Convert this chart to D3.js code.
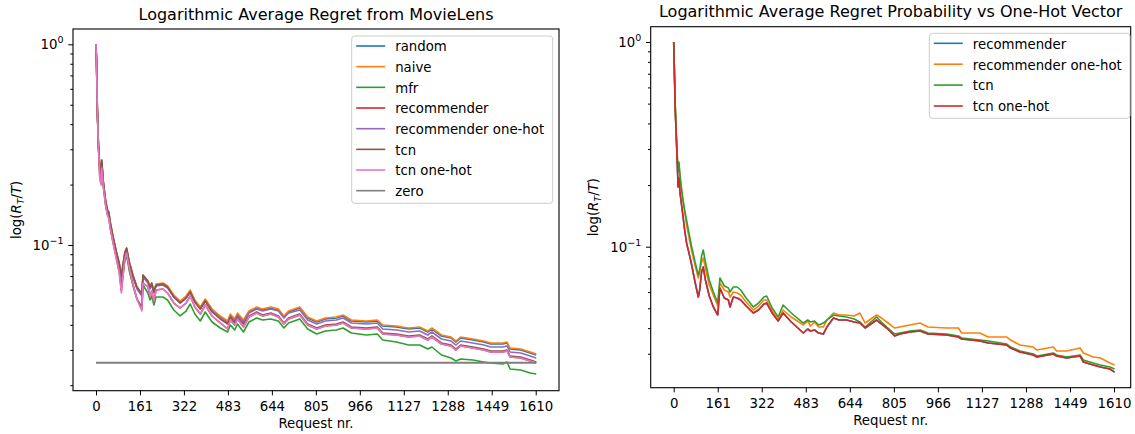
<!DOCTYPE html>
<html>
<head>
<meta charset="utf-8">
<script src="https://cdn.jsdelivr.net/npm/d3@7"></script>
<style>
    body { margin: 0; background: #fff; }
    svg { display: block; font-family: "DejaVu Sans", sans-serif; }
</style>
</head>
<body>
<svg id="chart" width="1135" height="434"></svg>
<script>
// ---- MovieLens panel ----
const reqLeft = [0, 2, 5, 9, 14, 19, 21, 27, 35, 42, 47, 52, 62, 75, 85, 93, 98, 106, 112, 122,
    135, 150, 168, 172, 190, 198, 204, 212, 220, 245, 262, 285, 308, 330, 345, 362, 382, 400, 425, 455,
    482, 492, 508, 518, 540, 560, 588, 610, 640, 668, 688, 705, 746, 775, 808, 840, 880, 905, 935, 990,
    1030, 1050, 1100, 1145, 1185, 1215, 1230, 1265, 1300, 1318, 1335, 1380, 1420, 1445, 1490, 1505, 1516, 1555, 1590, 1612];

const randomVals = [1.0, .814, .4653, .3115, .2393, .2259, .2623, .2037, .1657, .1477,
    .1444, .1287, .1096, .09123, .08041, .06926, .07769, .09123, .09551, .08133,
    .07006, .06105, .05634, .07006, .06539, .06105, .06391, .05831, .06319, .06391,
    .06176, .05570, .05198, .05506, .05898, .05258, .04853, .05319, .04742, .04377,
    .04133, .04479, .04229, .04529, .04181, .04635, .04853, .04742, .04853, .04742,
    .04377, .04635, .04853, .04327, .04133, .04278, .04327, .04428, .04181, .04133,
    .04181, .03947, .03902, .03814, .03858, .03685, .03814, .03519, .03440, .03285,
    .03440, .03362, .03285, .03211, .03211, .03248, .03032, .02997, .02896, .02830];

const naiveVals = [1.0, .816, .4707, .3151, .2420, .2285, .2653, .2060, .1676, .1494,
    .1460, .1302, .1109, .09228, .08133, .07006, .07858, .09228, .09662, .08227,
    .07087, .06176, .05698, .07087, .06615, .06176, .06465, .05898, .06391, .06465,
    .06247, .05634, .05258, .05570, .05966, .05319, .04909, .05381, .04798, .04428,
    .04181, .04529, .04278, .04582, .04229, .04688, .04909, .04798, .04909, .04798,
    .04428, .04688, .04909, .04377, .04181, .04327, .04377, .04479, .04229, .04181,
    .04229, .03993, .03947, .03858, .03902, .03727, .03858, .03560, .03479, .03323,
    .03479, .03400, .03323, .03248, .03248, .03285, .03067, .03032, .02929, .02863];

const mfrVals = [1.0, .81, .4653, .3080, .2338, .2182, .2563, .1991, .1619, .1444,
    .1411, .1258, .1059, .08714, .07592, .06319, .07087, .08418, .08916, .07419,
    .06319, .05381, .04909, .06319, .05764, .05319, .05570, .05023, .05506, .05506,
    .05319, .04742, .04428, .04688, .05080, .04529, .04181, .04635, .04133, .03858,
    .03685, .03993, .03770, .04039, .03685, .04133, .04327, .04229, .04278, .04181,
    .03858, .04086, .04278, .03814, .03601, .03727, .03770, .03858, .03643, .03560,
    .03601, .03362, .03285, .03174, .03174, .03032, .03102, .02830, .02734, .02642,
    .02703, .02672, .02612, .02582, .02552, .02612, .02410, .02382, .02302, .02275];

const recommenderVals = [1.0, .80, .4600, .3045, .2157, .2037, .2420, .1946, .1583, .1411,
    .1363, .1215, .1035, .08516, .07335, .05898, .06847, .08614, .09123, .07680,
    .06391, .05381, .04798, .06465, .06176, .05570, .05898, .05258, .05966, .06035,
    .05764, .05139, .04853, .05139, .05570, .04909, .04529, .05023, .04428, .04086,
    .03814, .04229, .03993, .04278, .03902, .04377, .04582, .04428, .04529, .04377,
    .04039, .04278, .04479, .03993, .03814, .03947, .03993, .04086, .03858, .03814,
    .03858, .03601, .03560, .03479, .03519, .03362, .03479, .03211, .03138, .02997,
    .03138, .03067, .02997, .02929, .02929, .02963, .02766, .02734, .02642, .02582];

const recOneHotVals = [1.0, .816, .4653, .3115, .2365, .2233, .2593, .2013, .1638, .1460,
    .1427, .1273, .1084, .09019, .07949, .06769, .07592, .09019, .09442, .08041,
    .06926, .06035, .05570, .06926, .06465, .06035, .06319, .05764, .06247, .06319,
    .06105, .05506, .05139, .05443, .05831, .05198, .04798, .05258, .04688, .04327,
    .04086, .04428, .04181, .04479, .04133, .04582, .04798, .04688, .04798, .04688,
    .04327, .04582, .04742, .04229, .04039, .04181, .04229, .04327, .04086, .04039,
    .04086, .03814, .03770, .03685, .03727, .03560, .03685, .03400, .03323, .03174,
    .03323, .03248, .03174, .03102, .03102, .03138, .02929, .02896, .02798, .02734];

const tcnVals = [1.0, .82, .4707, .3151, .2420, .2285, .2653, .2060, .1676, .1494,
    .1460, .1302, .1109, .09228, .08133, .07006, .07858, .09228, .09662, .08227,
    .07087, .06176, .05698, .07087, .06615, .06176, .06465, .05831, .06319, .06391,
    .06176, .05506, .05139, .05443, .05831, .05198, .04798, .05258, .04635, .04278,
    .04039, .04377, .04086, .04377, .04039, .04428, .04635, .04479, .04582, .04428,
    .04086, .04327, .04529, .04039, .03858, .03993, .04039, .04133, .03902, .03858,
    .03902, .03643, .03601, .03519, .03560, .03400, .03519, .03248, .03174, .03032,
    .03174, .03102, .03032, .02963, .02963, .02997, .02798, .02766, .02672, .02612];

const tcnOneHotVals = [1.0, .80, .4600, .3045, .2108, .1991, .2420, .1946, .1583, .1411,
    .1363, .1215, .1035, .08516, .07335, .05764, .06847, .08614, .09123, .07680,
    .06391, .05381, .04688, .06465, .06176, .05570, .05898, .05258, .05966, .06035,
    .05764, .05139, .04853, .05139, .05570, .04909, .04529, .05023, .04428, .04086,
    .03814, .04229, .03993, .04278, .03902, .04377, .04582, .04428, .04529, .04377,
    .04039, .04278, .04479, .03993, .03814, .03947, .03993, .04086, .03858, .03814,
    .03858, .03601, .03560, .03479, .03519, .03362, .03479, .03211, .03138, .02997,
    .03138, .03067, .02997, .02929, .02929, .02963, .02766, .02734, .02642, .02582];

const zeroReq = [0, 1612];
const zeroVals = [0.0259, 0.0259];

// ---- probability vs one-hot panel ----
const reqRight = [0, 2, 6, 11, 16, 19, 24, 32, 40, 47, 55, 65, 78, 90, 95, 102, 108, 116, 130, 145,
    161, 169, 185, 200, 206, 218, 232, 245, 265, 291, 310, 330, 340, 360, 382, 400, 430, 474, 490, 500,
    515, 530, 547, 560, 584, 605, 632, 660, 681, 700, 742, 760, 779, 808, 827, 864, 901, 930, 998, 1041,
    1053, 1120, 1150, 1218, 1232, 1266, 1315, 1328, 1388, 1400, 1437, 1486, 1498, 1534, 1560, 1595, 1612];

const recProbVals = [1.0, .763, .4550, .3037, .1958, .2166, .1789, .1478, .1207, .1043,
    .09421, .08231, .06722, .05678, .06143, .07522, .07958, .06875, .05742, .05074,
    .04637, .06283, .05614, .05489, .05074, .05678, .05614, .05489, .05131, .04743,
    .04905, .05248, .05307, .04743, .04334, .04743, .04286, .03786, .03961, .03873,
    .03917, .03786, .03744, .04051, .04483, .04383, .04383, .04286, .04237, .04006,
    .04383, .04190, .04006, .03661, .03744, .03830, .03873, .03744, .03702, .03620,
    .03540, .03461, .03383, .03308, .03198, .03057, .02956, .02890, .02989, .02923,
    .02859, .02923, .02733, .02642, .02583, .02525, .02441];

const recOneHotProbVals = [1.0, .772, .4654, .3141, .2371, .2565, .2118, .1730, .1478, .1277,
    .1128, .09635, .08139, .07031, .07522, .08418, .08806, .07868, .06499, .05807,
    .05131, .06647, .06143, .06006, .05678, .06006, .05939, .05807, .05367, .04905,
    .05131, .05489, .05489, .04850, .04383, .04905, .04534, .04143, .04334, .04097,
    .04286, .04051, .04051, .04383, .04743, .04637, .04637, .04585, .04743, .04237,
    .04637, .04483, .04286, .04006, .04051, .04143, .04237, .04051, .04006, .04006,
    .03786, .03786, .03620, .03620, .03500, .03308, .03234, .03127, .03234, .03092,
    .03092, .03198, .03023, .02890, .02859, .02702, .02642];

const tcnProbVals = [1.0, .772, .4654, .3141, .2318, .2594, .2166, .1769, .1511, .1351,
    .1180, .1008, .08418, .07273, .07693, .09006, .09635, .08418, .06875, .06006,
    .05307, .07031, .06426, .06283, .06006, .06354, .06354, .06143, .05614, .05074,
    .05307, .05678, .05742, .05017, .04534, .05189, .04743, .04237, .04383, .04286,
    .04334, .04143, .04237, .04383, .04637, .04585, .04534, .04433, .04286, .04051,
    .04534, .04286, .04051, .03744, .03786, .03873, .03917, .03786, .03744, .03661,
    .03580, .03500, .03461, .03345, .03234, .03092, .02989, .02923, .03023, .02956,
    .02890, .02956, .02795, .02702, .02642, .02583, .02525];

const tcnOneHotProbVals = [1.0, .763, .4550, .3037, .1958, .2166, .1789, .1478, .1207, .1043,
    .09421, .08231, .06722, .05678, .06143, .07522, .07958, .06875, .05742, .05074,
    .04637, .06283, .05614, .05489, .05074, .05678, .05614, .05489, .05131, .04743,
    .04905, .05248, .05307, .04743, .04334, .04743, .04286, .03786, .03961, .03873,
    .03917, .03786, .03744, .04051, .04483, .04383, .04383, .04286, .04237, .04006,
    .04383, .04190, .04006, .03661, .03744, .03830, .03873, .03744, .03702, .03620,
    .03540, .03461, .03383, .03308, .03198, .03057, .02956, .02890, .02989, .02923,
    .02859, .02923, .02733, .02642, .02583, .02525, .02441];

const xTickVals = [0, 161, 322, 483, 644, 805, 966, 1127, 1288, 1449, 1610];
const yMajorVals = [0.1, 1];
const yMajorExp = ["\u22121", "0"];

const tab10 = ["#1f77b4", "#ff7f0e", "#2ca02c", "#d62728", "#9467bd", "#8c564b", "#e377c2", "#7f7f7f"];

const svg = d3.select("#chart");

function drawPanel(cfg) {
    const x = d3.scaleLinear().domain(cfg.xDomain).range([cfg.left, cfg.right]);
    const y = d3.scaleLog().domain(cfg.yDomain).range([cfg.bottom, cfg.top]);
    const g = svg.append("g");

    const line = d3.line()
        .x(d => x(d[0]))
        .y(d => y(d[1]));

    cfg.series.forEach(s => {
        g.append("path")
            .datum(d3.zip(s.req, s.vals))
            .attr("fill", "none")
            .attr("stroke", s.color)
            .attr("stroke-width", s.width || 1.6)
            .attr("stroke-linejoin", "round")
            .attr("d", line);
    });

    // x axis
    const xAxis = g.append("g")
        .attr("transform", `translate(0,${cfg.bottom})`)
        .call(d3.axisBottom(x)
            .tickValues(xTickVals)
            .tickFormat(d3.format("d"))
            .tickSize(4.7)
            .tickPadding(6.5)
            .tickSizeOuter(0));
    xAxis.select(".domain").remove();
    xAxis.selectAll("text")
        .attr("font-size", "13.3px")
        .attr("font-family", "DejaVu Sans")
        .attr("fill", "#000");

    // y axis, minor ticks then major ticks with 10^n labels
    const minor = y.ticks().filter(v => !yMajorVals.includes(v));
    const yMinor = g.append("g")
        .attr("transform", `translate(${cfg.left},0)`)
        .call(d3.axisLeft(y).tickValues(minor).tickSize(2.7).tickFormat(""));
    yMinor.select(".domain").remove();

    const yMajor = g.append("g")
        .attr("transform", `translate(${cfg.left},0)`)
        .call(d3.axisLeft(y).tickValues(yMajorVals).tickSize(4.7).tickFormat(""));
    yMajor.select(".domain").remove();
    yMajor.selectAll(".tick").each(function (d) {
        const t = d3.select(this).append("text")
            .attr("x", -9.5)
            .attr("dy", "0.35em")
            .attr("text-anchor", "end")
            .attr("font-size", "13.3px")
            .attr("font-family", "DejaVu Sans")
            .attr("fill", "#000");
        t.append("tspan").text("10");
        t.append("tspan")
            .attr("dy", "-6")
            .attr("font-size", "9.5px")
            .text(yMajorExp[yMajorVals.indexOf(d)]);
    });

    // frame
    g.append("rect")
        .attr("x", cfg.left)
        .attr("y", cfg.top)
        .attr("width", cfg.right - cfg.left)
        .attr("height", cfg.bottom - cfg.top)
        .attr("fill", "none")
        .attr("stroke", "#000")
        .attr("stroke-width", 1.1);

    g.append("text")
        .attr("x", (cfg.left + cfg.right) / 2)
        .attr("y", cfg.titleY)
        .attr("text-anchor", "middle")
        .attr("font-size", "16px")
        .text(cfg.title);

    g.append("text")
        .attr("x", (cfg.left + cfg.right) / 2)
        .attr("y", cfg.bottom + 37.5)
        .attr("text-anchor", "middle")
        .attr("font-size", "13.3px")
        .text("Request nr.");

    const yl = g.append("text")
        .attr("transform", `translate(${cfg.ylabelX},${(cfg.top + cfg.bottom) / 2}) rotate(-90)`)
        .attr("text-anchor", "middle")
        .attr("font-size", "13.3px");
    yl.append("tspan").text("log(");
    yl.append("tspan").attr("font-style", "italic").text("R");
    yl.append("tspan").attr("font-style", "italic").attr("font-size", "9.5px").attr("dy", 3).text("T");
    yl.append("tspan").attr("dy", -3).text("/");
    yl.append("tspan").attr("font-style", "italic").text("T");
    yl.append("tspan").text(")");

    // legend
    const lg = cfg.legend;
    const legend = g.append("g");
    legend.append("rect")
        .attr("x", lg.x)
        .attr("y", lg.y)
        .attr("width", lg.w)
        .attr("height", lg.h)
        .attr("rx", 3)
        .attr("fill", "#fff")
        .attr("fill-opacity", 0.8)
        .attr("stroke", "#cccccc");

    cfg.series.forEach((s, i) => {
        const ry = lg.rowY + i * lg.gap;
        legend.append("line")
            .attr("x1", lg.x + 4.5)
            .attr("x2", lg.x + 33.5)
            .attr("y1", ry)
            .attr("y2", ry)
            .attr("stroke", s.color)
            .attr("stroke-width", 1.6);
        legend.append("text")
            .attr("x", lg.x + 43.5)
            .attr("y", ry + 5.3)
            .attr("font-size", "13.3px")
            .text(s.name);
    });
}

drawPanel({
    left: 73, right: 559, top: 29, bottom: 390.7,
    xDomain: [-84.2, 1695.3],
    yDomain: [0.01879, 1.192],
    title: "Logarithmic Average Regret from MovieLens",
    titleY: 20,
    ylabelX: 20.5,
    legend: { x: 351.7, y: 36, w: 201, h: 167.3, rowY: 46, gap: 20.67 },
    series: [
        { name: "random", color: tab10[0], req: reqLeft, vals: randomVals },
        { name: "naive", color: tab10[1], req: reqLeft, vals: naiveVals },
        { name: "mfr", color: tab10[2], req: reqLeft, vals: mfrVals },
        { name: "recommender", color: tab10[3], req: reqLeft, vals: recommenderVals },
        { name: "recommender one-hot", color: tab10[4], req: reqLeft, vals: recOneHotVals },
        { name: "tcn", color: tab10[5], req: reqLeft, vals: tcnVals },
        { name: "tcn one-hot", color: tab10[6], req: reqLeft, vals: tcnOneHotVals },
        { name: "zero", color: tab10[7], req: zeroReq, vals: zeroVals, width: 2 }
    ]
});

drawPanel({
    left: 650.7, right: 1130.7, top: 26.7, bottom: 387.7,
    xDomain: [-84.1, 1671],
    yDomain: [0.02047, 1.1878],
    title: "Logarithmic Average Regret Probability vs One-Hot Vector",
    titleY: 16.7,
    ylabelX: 598,
    legend: { x: 929.3, y: 33.3, w: 200.7, h: 85, rowY: 43.3, gap: 20.9 },
    series: [
        { name: "recommender", color: tab10[0], req: reqRight, vals: recProbVals },
        { name: "recommender one-hot", color: tab10[1], req: reqRight, vals: recOneHotProbVals },
        { name: "tcn", color: tab10[2], req: reqRight, vals: tcnProbVals },
        { name: "tcn one-hot", color: tab10[3], req: reqRight, vals: tcnOneHotProbVals }
    ]
});
</script>
</body>
</html>
